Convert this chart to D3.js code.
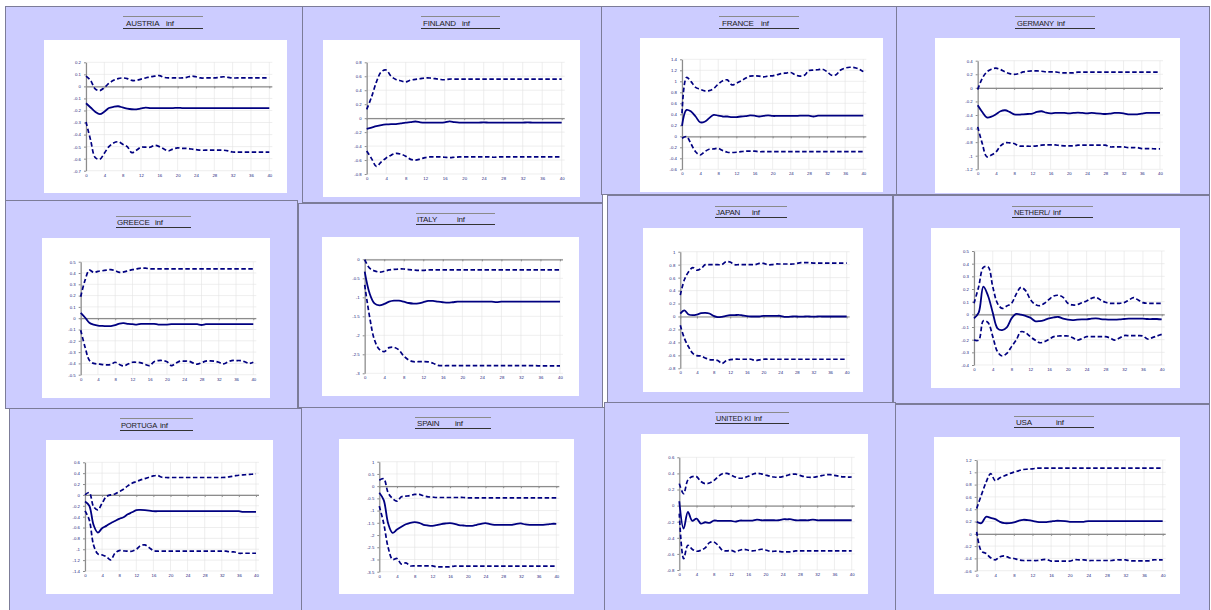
<!DOCTYPE html>
<meta charset="utf-8">
<script src="https://d3js.org/d3.v7.min.js"></script>
<style>
    body { margin: 0; background: #fff; }
    svg text { font-family: "Liberation Sans", Arial, sans-serif; }
</style>

<div id="irf"></div>

<script>
    // horizon steps and x ticks shared by every panel
    var horizon = d3.range(0, 41);
    var xTicks = [0, 4, 8, 12, 16, 20, 24, 28, 32, 36, 40];
    var countries = ["AUSTRIA", "FINLAND", "FRANCE", "GERMANY", "GREECE", "ITALY",
                     "JAPAN", "NETHERL/", "PORTUGA", "SPAIN", "UNITED KI", "USA"];
    var shockVar = "inf";

    // y tick labels per panel
    var austriaTicks = [0.2, 0.1, 0, -0.1, -0.2, -0.3, -0.4, -0.5, -0.6, -0.7];
    var finlandTicks = [0.8, 0.6, 0.4, 0.2, 0, -0.2, -0.4, -0.6, -0.8];
    var franceTicks = [1.4, 1.2, 1, 0.8, 0.6, 0.4, 0.2, 0, -0.2, -0.4, -0.6];
    var germanyTicks = [0.4, 0.2, 0, -0.2, -0.4, -0.6, -0.8, -1, -1.2];
    var greeceTicks = [0.5, 0.4, 0.3, 0.2, 0.1, 0, -0.1, -0.2, -0.3, -0.4, -0.5];
    var italyTicks = [0, -0.5, -1, -1.5, -2, -2.5, -3];
    var japanTicks = [1, 0.8, 0.6, 0.4, 0.2, 0, -0.2, -0.4, -0.6, -0.8];
    var netherTicks = [0.5, 0.4, 0.3, 0.2, 0.1, 0, -0.1, -0.2, -0.3, -0.4];
    var portugalTicks = [0.6, 0.4, 0.2, 0, -0.2, -0.4, -0.6, -0.8, -1, -1.2, -1.4];
    var spainTicks = [1, 0.5, 0, -0.5, -1, -1.5, -2, -2.5, -3, -3.5];
    var ukTicks = [0.6, 0.4, 0.2, 0, -0.2, -0.4, -0.6, -0.8];
    var usaTicks = [1.2, 1, 0.8, 0.6, 0.4, 0.2, 0, -0.2, -0.4, -0.6];

    // responses (Mid) with upper (Up) and lower (Lo) bands, steps 0..40
    var austriaUp = [0.085, 0.05, -0.02, -0.035, -0.01, 0.025, 0.05, 0.065, 0.07, 0.065,
        0.05, 0.05, 0.06, 0.07, 0.08, 0.085, 0.09, 0.075, 0.07, 0.07,
        0.07, 0.07, 0.075, 0.085, 0.08, 0.07, 0.07, 0.07, 0.07, 0.075,
        0.08, 0.075, 0.07, 0.07, 0.07, 0.07, 0.07, 0.07, 0.07, 0.07, 0.07];
    var austriaMid = [-0.14, -0.175, -0.21, -0.23, -0.21, -0.18, -0.17, -0.165, -0.175, -0.185,
        -0.19, -0.19, -0.183, -0.177, -0.18, -0.18, -0.18, -0.18, -0.18, -0.18,
        -0.178, -0.18, -0.18, -0.18, -0.18, -0.18, -0.18, -0.18, -0.18, -0.18,
        -0.18, -0.18, -0.18, -0.18, -0.18, -0.18, -0.18, -0.18, -0.18, -0.18, -0.18];
    var austriaLo = [-0.295, -0.445, -0.59, -0.605, -0.555, -0.5, -0.47, -0.46, -0.48, -0.5,
        -0.55, -0.53, -0.505, -0.505, -0.505, -0.49, -0.5, -0.52, -0.535, -0.52,
        -0.51, -0.515, -0.515, -0.52, -0.525, -0.53, -0.53, -0.53, -0.53, -0.53,
        -0.53, -0.535, -0.545, -0.545, -0.545, -0.545, -0.545, -0.545, -0.545, -0.545, -0.545];

    var finlandUp = [0.125, 0.305, 0.52, 0.665, 0.69, 0.6, 0.555, 0.535, 0.52, 0.545,
        0.555, 0.565, 0.575, 0.575, 0.565, 0.555, 0.55, 0.56, 0.56, 0.56,
        0.56, 0.56, 0.56, 0.56, 0.56, 0.56, 0.56, 0.56, 0.56, 0.56,
        0.56, 0.56, 0.56, 0.56, 0.56, 0.56, 0.56, 0.56, 0.56, 0.56, 0.56];
    var finlandMid = [-0.155, -0.135, -0.115, -0.1, -0.09, -0.085, -0.085, -0.075, -0.065, -0.057,
        -0.048, -0.06, -0.065, -0.065, -0.065, -0.065, -0.06, -0.045, -0.057, -0.065,
        -0.065, -0.065, -0.065, -0.065, -0.06, -0.065, -0.065, -0.065, -0.065, -0.065,
        -0.065, -0.065, -0.065, -0.06, -0.065, -0.065, -0.065, -0.065, -0.065, -0.065, -0.065];
    var finlandLo = [-0.47, -0.58, -0.69, -0.625, -0.57, -0.53, -0.505, -0.515, -0.545, -0.59,
        -0.6, -0.585, -0.565, -0.555, -0.555, -0.555, -0.56, -0.565, -0.56, -0.555,
        -0.555, -0.555, -0.555, -0.555, -0.555, -0.555, -0.56, -0.555, -0.555, -0.555,
        -0.555, -0.555, -0.555, -0.555, -0.555, -0.555, -0.555, -0.555, -0.555, -0.555, -0.555];

    var franceUp = [0.42, 1.07, 0.995, 0.89, 0.855, 0.825, 0.83, 0.87, 0.95, 1.01,
        1.025, 0.935, 0.965, 1.005, 1.055, 1.095, 1.1, 1.095, 1.08, 1.095,
        1.1, 1.12, 1.14, 1.15, 1.16, 1.115, 1.095, 1.11, 1.195, 1.205,
        1.21, 1.22, 1.175, 1.11, 1.12, 1.205, 1.24, 1.255, 1.25, 1.225, 1.175];
    var franceMid = [0.19, 0.48, 0.45, 0.36, 0.255, 0.265, 0.33, 0.39, 0.375, 0.36,
        0.36, 0.35, 0.35, 0.36, 0.365, 0.38, 0.375, 0.36, 0.37, 0.38,
        0.37, 0.37, 0.37, 0.37, 0.37, 0.37, 0.375, 0.375, 0.375, 0.36,
        0.375, 0.375, 0.375, 0.375, 0.375, 0.375, 0.375, 0.375, 0.375, 0.375, 0.375];
    var franceLo = [-0.035, -0.005, -0.14, -0.28, -0.34, -0.28, -0.235, -0.23, -0.22, -0.26,
        -0.29, -0.295, -0.29, -0.28, -0.27, -0.27, -0.27, -0.28, -0.28, -0.28,
        -0.28, -0.28, -0.28, -0.28, -0.28, -0.28, -0.28, -0.28, -0.28, -0.28,
        -0.28, -0.28, -0.28, -0.28, -0.28, -0.28, -0.28, -0.28, -0.28, -0.28, -0.28];

    var germanyUp = [-0.025, 0.14, 0.235, 0.275, 0.29, 0.27, 0.235, 0.21, 0.2, 0.21,
        0.235, 0.245, 0.25, 0.25, 0.245, 0.235, 0.235, 0.235, 0.225, 0.22,
        0.22, 0.22, 0.232, 0.232, 0.232, 0.232, 0.232, 0.232, 0.232, 0.232,
        0.232, 0.232, 0.232, 0.232, 0.232, 0.232, 0.232, 0.232, 0.232, 0.232, 0.232];
    var germanyMid = [-0.255, -0.355, -0.435, -0.425, -0.39, -0.345, -0.33, -0.355, -0.39, -0.395,
        -0.39, -0.385, -0.38, -0.355, -0.345, -0.365, -0.375, -0.37, -0.37, -0.37,
        -0.375, -0.37, -0.365, -0.37, -0.375, -0.37, -0.375, -0.38, -0.385, -0.38,
        -0.37, -0.37, -0.375, -0.39, -0.39, -0.39, -0.38, -0.37, -0.37, -0.37, -0.37];
    var germanyLo = [-0.575, -0.82, -1.015, -0.99, -0.945, -0.855, -0.81, -0.81, -0.82, -0.855,
        -0.86, -0.86, -0.86, -0.855, -0.845, -0.84, -0.84, -0.84, -0.85, -0.855,
        -0.855, -0.855, -0.845, -0.845, -0.845, -0.845, -0.845, -0.845, -0.845, -0.87,
        -0.87, -0.87, -0.87, -0.88, -0.88, -0.88, -0.895, -0.895, -0.895, -0.9, -0.9];

    var greeceUp = [0.19, 0.335, 0.425, 0.405, 0.415, 0.42, 0.425, 0.43, 0.42, 0.405,
        0.41, 0.42, 0.43, 0.437, 0.443, 0.443, 0.437, 0.437, 0.437, 0.437,
        0.437, 0.437, 0.437, 0.437, 0.437, 0.437, 0.437, 0.437, 0.437, 0.437,
        0.437, 0.437, 0.437, 0.437, 0.437, 0.437, 0.437, 0.437, 0.437, 0.437, 0.437];
    var greeceMid = [0.047, 0.006, -0.04, -0.056, -0.065, -0.068, -0.07, -0.07, -0.062, -0.047,
        -0.044, -0.05, -0.053, -0.056, -0.05, -0.05, -0.05, -0.05, -0.056, -0.056,
        -0.056, -0.053, -0.053, -0.053, -0.053, -0.053, -0.053, -0.053, -0.06, -0.053,
        -0.053, -0.053, -0.053, -0.053, -0.053, -0.053, -0.053, -0.053, -0.053, -0.053, -0.053];
    var greeceLo = [-0.106, -0.254, -0.372, -0.4, -0.405, -0.41, -0.413, -0.41, -0.39, -0.41,
        -0.422, -0.405, -0.39, -0.39, -0.395, -0.41, -0.42, -0.385, -0.375, -0.375,
        -0.385, -0.42, -0.4, -0.38, -0.38, -0.38, -0.395, -0.407, -0.395, -0.38,
        -0.378, -0.38, -0.39, -0.405, -0.39, -0.375, -0.375, -0.375, -0.385, -0.4, -0.39];

    var italyUp = [-0.01, -0.235, -0.305, -0.335, -0.315, -0.28, -0.265, -0.255, -0.255, -0.27,
        -0.28, -0.29, -0.29, -0.28, -0.28, -0.28, -0.28, -0.28, -0.28, -0.28,
        -0.28, -0.28, -0.28, -0.28, -0.28, -0.28, -0.28, -0.28, -0.28, -0.28,
        -0.28, -0.28, -0.28, -0.28, -0.28, -0.28, -0.28, -0.28, -0.28, -0.28, -0.28];
    var italyMid = [-0.325, -0.895, -1.16, -1.21, -1.175, -1.115, -1.09, -1.09, -1.115, -1.15,
        -1.165, -1.16, -1.13, -1.095, -1.095, -1.115, -1.13, -1.14, -1.13, -1.115,
        -1.115, -1.115, -1.115, -1.115, -1.115, -1.115, -1.115, -1.125, -1.115, -1.115,
        -1.115, -1.115, -1.115, -1.115, -1.115, -1.115, -1.115, -1.115, -1.115, -1.115, -1.115];
    var italyLo = [-0.675, -1.51, -2.12, -2.37, -2.43, -2.325, -2.315, -2.385, -2.545, -2.65,
        -2.695, -2.695, -2.695, -2.7, -2.735, -2.79, -2.8, -2.8, -2.8, -2.8,
        -2.8, -2.8, -2.8, -2.8, -2.8, -2.8, -2.8, -2.8, -2.8, -2.8,
        -2.8, -2.8, -2.8, -2.8, -2.8, -2.8, -2.805, -2.805, -2.805, -2.805, -2.805];

    var japanUp = [0.33, 0.57, 0.69, 0.755, 0.715, 0.74, 0.8, 0.8, 0.8, 0.8,
        0.8, 0.845, 0.84, 0.8, 0.8, 0.8, 0.8, 0.8, 0.8, 0.82,
        0.82, 0.8, 0.8, 0.81, 0.81, 0.81, 0.81, 0.81, 0.82, 0.83,
        0.83, 0.83, 0.825, 0.825, 0.825, 0.825, 0.825, 0.825, 0.825, 0.825, 0.825];
    var japanMid = [0.045, 0.093, 0.03, 0.02, 0.03, 0.05, 0.057, 0.046, 0.01, -0.01,
        -0.005, 0.01, 0.02, 0.02, 0.026, 0.015, 0.005, 0, 0, 0,
        0.01, 0.01, 0.01, 0.01, 0.01, -0.005, -0.005, 0, 0, -0.003,
        0, 0, -0.003, 0, 0, 0, 0, 0, 0, 0, 0];
    var japanLo = [-0.135, -0.34, -0.47, -0.57, -0.605, -0.61, -0.64, -0.665, -0.67, -0.68,
        -0.725, -0.685, -0.665, -0.66, -0.66, -0.66, -0.66, -0.66, -0.68, -0.67,
        -0.66, -0.66, -0.66, -0.66, -0.66, -0.66, -0.66, -0.66, -0.66, -0.66,
        -0.66, -0.66, -0.66, -0.66, -0.66, -0.66, -0.66, -0.66, -0.66, -0.66, -0.66];

    var netherUp = [0.087, 0.218, 0.37, 0.375, 0.218, 0.087, 0.047, 0.066, 0.087, 0.16,
        0.213, 0.187, 0.118, 0.079, 0.068, 0.087, 0.118, 0.145, 0.15, 0.134,
        0.087, 0.074, 0.076, 0.092, 0.105, 0.126, 0.134, 0.113, 0.095, 0.087,
        0.087, 0.087, 0.092, 0.113, 0.132, 0.113, 0.092, 0.087, 0.087, 0.087, 0.087];
    var netherMid = [-0.032, 0.013, 0.218, 0.145, 0.013, -0.11, -0.124, -0.103, -0.032, 0.003,
        -0.003, -0.013, -0.026, -0.053, -0.053, -0.045, -0.032, -0.024, -0.021, -0.034,
        -0.042, -0.045, -0.042, -0.04, -0.04, -0.034, -0.032, -0.037, -0.04, -0.042,
        -0.042, -0.04, -0.037, -0.034, -0.034, -0.034, -0.034, -0.037, -0.037, -0.037, -0.04];
    var netherLo = [-0.203, -0.203, -0.05, -0.066, -0.176, -0.295, -0.329, -0.308, -0.255, -0.203,
        -0.137, -0.145, -0.176, -0.203, -0.224, -0.216, -0.197, -0.176, -0.171, -0.171,
        -0.171, -0.184, -0.203, -0.192, -0.176, -0.176, -0.176, -0.176, -0.176, -0.187,
        -0.203, -0.187, -0.168, -0.168, -0.168, -0.168, -0.171, -0.195, -0.184, -0.171, -0.158];

    var portugalUp = [0, 0.043, -0.215, -0.276, -0.153, -0.03, 0, 0.018, 0.06, 0.104,
        0.166, 0.215, 0.245, 0.276, 0.3, 0.325, 0.35, 0.356, 0.325, 0.32,
        0.32, 0.32, 0.32, 0.32, 0.32, 0.32, 0.32, 0.32, 0.32, 0.32,
        0.32, 0.32, 0.32, 0.325, 0.337, 0.35, 0.362, 0.368, 0.374, 0.38, 0.386];
    var portugalMid = [-0.123, -0.2, -0.552, -0.693, -0.613, -0.57, -0.52, -0.48, -0.44, -0.41,
        -0.356, -0.32, -0.28, -0.276, -0.28, -0.288, -0.3, -0.3, -0.3, -0.3,
        -0.3, -0.3, -0.3, -0.3, -0.3, -0.3, -0.3, -0.3, -0.3, -0.3,
        -0.3, -0.3, -0.3, -0.3, -0.3, -0.3, -0.3, -0.313, -0.313, -0.313, -0.313];
    var portugalLo = [-0.294, -0.46, -0.92, -1.085, -1.104, -1.135, -1.196, -1.073, -1.024, -1.03,
        -1.036, -1.036, -1.0, -0.933, -0.92, -0.97, -1.024, -1.036, -1.036, -1.036,
        -1.036, -1.036, -1.036, -1.036, -1.036, -1.036, -1.036, -1.036, -1.036, -1.036,
        -1.036, -1.036, -1.036, -1.036, -1.05, -1.05, -1.073, -1.073, -1.073, -1.073, -1.073];

    var spainUp = [0.245, 0.3, -0.273, -0.505, -0.614, -0.436, -0.41, -0.382, -0.34, -0.34,
        -0.395, -0.436, -0.45, -0.464, -0.464, -0.464, -0.464, -0.464, -0.464, -0.464,
        -0.477, -0.477, -0.477, -0.477, -0.477, -0.477, -0.477, -0.477, -0.477, -0.477,
        -0.477, -0.477, -0.477, -0.477, -0.477, -0.477, -0.477, -0.477, -0.477, -0.477, -0.477];
    var spainMid = [-0.273, -0.573, -1.527, -1.91, -1.773, -1.66, -1.56, -1.5, -1.473, -1.5,
        -1.58, -1.61, -1.623, -1.595, -1.55, -1.527, -1.514, -1.54, -1.595, -1.61,
        -1.623, -1.623, -1.582, -1.54, -1.514, -1.555, -1.582, -1.582, -1.582, -1.582,
        -1.582, -1.54, -1.527, -1.568, -1.582, -1.582, -1.582, -1.582, -1.568, -1.54, -1.54];
    var spainLo = [-0.818, -1.527, -2.51, -3.0, -2.96, -3.19, -3.136, -3.26, -3.26, -3.26,
        -3.26, -3.26, -3.26, -3.3, -3.3, -3.3, -3.3, -3.27, -3.27, -3.27,
        -3.27, -3.27, -3.27, -3.27, -3.27, -3.27, -3.27, -3.27, -3.27, -3.27,
        -3.27, -3.27, -3.27, -3.27, -3.27, -3.27, -3.27, -3.27, -3.27, -3.27, -3.27];

    var ukUp = [0.273, 0.149, 0.32, 0.36, 0.36, 0.3, 0.273, 0.28, 0.31, 0.36,
        0.395, 0.4, 0.38, 0.355, 0.34, 0.345, 0.365, 0.39, 0.402, 0.395,
        0.38, 0.365, 0.355, 0.352, 0.36, 0.375, 0.39, 0.39, 0.375, 0.36,
        0.352, 0.352, 0.36, 0.372, 0.382, 0.385, 0.375, 0.365, 0.358, 0.355, 0.355];
    var ukMid = [0.054, -0.286, -0.079, -0.19, -0.161, -0.224, -0.207, -0.215, -0.186, -0.19,
        -0.19, -0.19, -0.19, -0.199, -0.186, -0.186, -0.186, -0.186, -0.174, -0.182,
        -0.182, -0.182, -0.182, -0.182, -0.17, -0.17, -0.17, -0.182, -0.182, -0.182,
        -0.182, -0.174, -0.182, -0.182, -0.182, -0.182, -0.182, -0.182, -0.182, -0.182, -0.182];
    var ukLo = [-0.1, -0.658, -0.493, -0.542, -0.567, -0.555, -0.526, -0.46, -0.451, -0.493,
        -0.555, -0.563, -0.555, -0.575, -0.555, -0.542, -0.555, -0.563, -0.555, -0.542,
        -0.551, -0.567, -0.567, -0.567, -0.575, -0.575, -0.575, -0.563, -0.563, -0.563,
        -0.563, -0.563, -0.563, -0.563, -0.563, -0.563, -0.563, -0.563, -0.563, -0.563, -0.563];

    var usaUp = [0.412, 0.629, 0.835, 0.98, 0.862, 0.91, 0.943, 0.976, 1.003, 1.024,
        1.046, 1.051, 1.057, 1.068, 1.068, 1.068, 1.068, 1.068, 1.068, 1.068,
        1.068, 1.068, 1.068, 1.068, 1.068, 1.068, 1.068, 1.068, 1.068, 1.068,
        1.068, 1.068, 1.068, 1.068, 1.068, 1.068, 1.068, 1.068, 1.068, 1.068, 1.068];
    var usaMid = [0.195, 0.173, 0.276, 0.26, 0.238, 0.195, 0.173, 0.173, 0.184, 0.211,
        0.228, 0.222, 0.211, 0.195, 0.19, 0.19, 0.2, 0.211, 0.211, 0.206,
        0.195, 0.195, 0.195, 0.195, 0.206, 0.206, 0.206, 0.206, 0.206, 0.206,
        0.206, 0.206, 0.206, 0.206, 0.206, 0.206, 0.206, 0.206, 0.206, 0.206, 0.206];
    var usaLo = [0.033, -0.282, -0.32, -0.39, -0.423, -0.374, -0.358, -0.39, -0.401, -0.423,
        -0.434, -0.434, -0.434, -0.434, -0.423, -0.417, -0.444, -0.444, -0.444, -0.444,
        -0.444, -0.423, -0.423, -0.423, -0.434, -0.434, -0.434, -0.434, -0.434, -0.434,
        -0.423, -0.423, -0.423, -0.439, -0.439, -0.439, -0.439, -0.439, -0.423, -0.423, -0.423];

    // where each pasted panel sits on the sheet
    // frame [x,y,w,h], paper [x,y,w,h], plot [x at 0, x at 40, top, bottom],
    // title [line x1, line x2, top line y, bottom line y, name x, var x]
    var layout = [
        {frame: [5, 6, 298, 200], paper: [44, 40, 243, 153], plot: [86, 269.3, 62.3, 170.7], title: [123, 203, 16, 28, 126, 166]},
        {frame: [302, 6, 300, 196], paper: [323, 40, 257, 157], plot: [366.7, 561.7, 62.3, 174], title: [421, 500, 16, 28, 423, 462]},
        {frame: [601, 6, 295, 188], paper: [640, 38, 243, 154], plot: [682, 863.3, 59.3, 169.3], title: [719, 799, 16, 28, 722, 761]},
        {frame: [896, 6, 313, 188], paper: [935, 38, 245, 155], plot: [977.7, 1160, 60.7, 169.3], title: [1015, 1095, 16, 28, 1017, 1057]},
        {frame: [5, 200, 292, 208], paper: [42, 238, 228, 160], plot: [80.7, 253.3, 261.7, 374.7], title: [116, 191, 216, 227, 117, 155]},
        {frame: [298, 203, 304, 204], paper: [322, 237, 257, 159], plot: [364.7, 560, 259.3, 373.3], title: [416, 495, 213, 224, 417, 457]},
        {frame: [607, 195, 285, 207], paper: [643, 228, 220, 164], plot: [680.3, 846.7, 251.7, 368.3], title: [715, 787, 206, 217, 716, 752]},
        {frame: [893, 195, 316, 208], paper: [931, 228, 249, 160], plot: [974, 1161.7, 251, 365], title: [1012, 1093, 206, 217, 1014, 1053]},
        {frame: [9, 408, 293, 205], paper: [46, 440, 227, 154], plot: [85, 256, 462.3, 571], title: [120, 193, 418, 430, 121, 160]},
        {frame: [301, 407, 303, 206], paper: [339, 439, 235, 155], plot: [379.3, 556.3, 461.7, 571.7], title: [415, 491, 417, 428, 417, 455]},
        {frame: [604, 402, 291, 211], paper: [641, 434, 227, 160], plot: [679.3, 851.7, 457.3, 570], title: [715, 789, 412, 423, 716, 754]},
        {frame: [895, 404, 314, 209], paper: [934, 437, 246, 157], plot: [976.7, 1162.7, 460, 570.7], title: [1014, 1094, 416, 427, 1016, 1056]}
    ];

    var series = [
        [austriaUp, austriaMid, austriaLo, austriaTicks],
        [finlandUp, finlandMid, finlandLo, finlandTicks],
        [franceUp, franceMid, franceLo, franceTicks],
        [germanyUp, germanyMid, germanyLo, germanyTicks],
        [greeceUp, greeceMid, greeceLo, greeceTicks],
        [italyUp, italyMid, italyLo, italyTicks],
        [japanUp, japanMid, japanLo, japanTicks],
        [netherUp, netherMid, netherLo, netherTicks],
        [portugalUp, portugalMid, portugalLo, portugalTicks],
        [spainUp, spainMid, spainLo, spainTicks],
        [ukUp, ukMid, ukLo, ukTicks],
        [usaUp, usaMid, usaLo, usaTicks]
    ];

    var navy = "#000080";

    var svg = d3.select("#irf")
        .append("svg")
        .attr("width", 1211)
        .attr("height", 610);

    countries.forEach(function(name, k) {
        var L = layout[k], S = series[k];
        var g = svg.append("g");

        // lavender sheet + white chart area
        g.append("rect")
            .attr("x", L.frame[0] + 0.5).attr("y", L.frame[1] + 0.5)
            .attr("width", L.frame[2]).attr("height", L.frame[3])
            .attr("fill", "#ccccff")
            .attr("stroke", "#7c7c98");
        g.append("rect")
            .attr("x", L.paper[0]).attr("y", L.paper[1])
            .attr("width", L.paper[2]).attr("height", L.paper[3])
            .attr("fill", "#fff");

        // title with its two rules
        g.append("line")
            .attr("x1", L.title[0]).attr("x2", L.title[1])
            .attr("y1", L.title[2] + 0.5).attr("y2", L.title[2] + 0.5)
            .attr("stroke", "#8a8a8a");
        g.append("line")
            .attr("x1", L.title[0]).attr("x2", L.title[1])
            .attr("y1", L.title[3] + 0.5).attr("y2", L.title[3] + 0.5)
            .attr("stroke", "#333");
        var nameText = g.append("text")
            .attr("x", L.title[4]).attr("y", L.title[3] - 2.5)
            .attr("font-size", 8).attr("letter-spacing", -0.2)
            .attr("fill", "#222")
            .text(name);
        // squeeze long names so they stop before the variable label
        var room = L.title[5] - L.title[4] - 3;
        if (nameText.node().getComputedTextLength() > room) {
            nameText.attr("textLength", room).attr("lengthAdjust", "spacingAndGlyphs");
        }
        g.append("text")
            .attr("x", L.title[5]).attr("y", L.title[3] - 2.5)
            .attr("font-size", 8).attr("letter-spacing", -0.2)
            .attr("fill", "#222")
            .text(shockVar);

        var x = d3.scaleLinear().domain([0, 40]).range([L.plot[0], L.plot[1]]);
        var y = d3.scaleLinear().domain(d3.extent(S[3])).range([L.plot[3], L.plot[2]]);

        // light grid
        g.append("g").selectAll("line")
            .data(S[3])
            .enter().append("line")
            .attr("x1", x(0)).attr("x2", x(40) + 3)
            .attr("y1", function(d) { return y(d); })
            .attr("y2", function(d) { return y(d); })
            .attr("stroke", "#e3e3e3").attr("stroke-width", 0.6);
        g.append("g").selectAll("line")
            .data(xTicks)
            .enter().append("line")
            .attr("x1", function(d) { return x(d); })
            .attr("x2", function(d) { return x(d); })
            .attr("y1", y.range()[1]).attr("y2", y.range()[0])
            .attr("stroke", "#e3e3e3").attr("stroke-width", 0.6);

        // y axis
        var ya = g.append("g")
            .attr("transform", "translate(" + x(0) + ",0)")
            .call(d3.axisLeft(y).tickValues(S[3]).tickSize(2).tickSizeOuter(0).tickPadding(3)
                .tickFormat(function(d) { return String(d); }));
        ya.select(".domain").attr("stroke", "#8c8c8c").attr("stroke-width", 1.2);
        ya.selectAll(".tick line").attr("stroke", "#8c8c8c");
        ya.selectAll("text")
            .attr("font-size", 4.3).attr("font-family", "Liberation Sans, Arial, sans-serif")
            .attr("fill", "#20207a");

        // zero line with tick marks
        var za = g.append("g")
            .attr("transform", "translate(0," + y(0) + ")")
            .call(d3.axisBottom(x).tickValues(xTicks).tickSize(2).tickSizeOuter(0).tickFormat(""));
        za.select(".domain").attr("stroke", "#8c8c8c").attr("stroke-width", 1.2)
            .attr("d", "M" + x(0) + ",0.5H" + (x(40) + 3));
        za.selectAll(".tick line").attr("stroke", "#8c8c8c");

        // step labels under the plot
        var xa = g.append("g")
            .attr("transform", "translate(0," + y.range()[0] + ")")
            .call(d3.axisBottom(x).tickValues(xTicks).tickSize(0).tickPadding(3));
        xa.select(".domain").remove();
        xa.selectAll("text")
            .attr("font-size", 4.3).attr("font-family", "Liberation Sans, Arial, sans-serif")
            .attr("fill", "#20207a");

        var line = d3.line()
            .x(function(d, i) { return x(horizon[i]); })
            .y(function(d) { return y(d); })
            .curve(d3.curveCatmullRom);

        [S[0], S[2]].forEach(function(band) {
            g.append("path")
                .datum(band)
                .attr("d", line)
                .attr("fill", "none")
                .attr("stroke", navy)
                .attr("stroke-width", 1.7)
                .attr("stroke-dasharray", "4.5,2.5");
        });
        g.append("path")
            .datum(S[1])
            .attr("d", line)
            .attr("fill", "none")
            .attr("stroke", navy)
            .attr("stroke-width", 1.8);
    });
</script>
